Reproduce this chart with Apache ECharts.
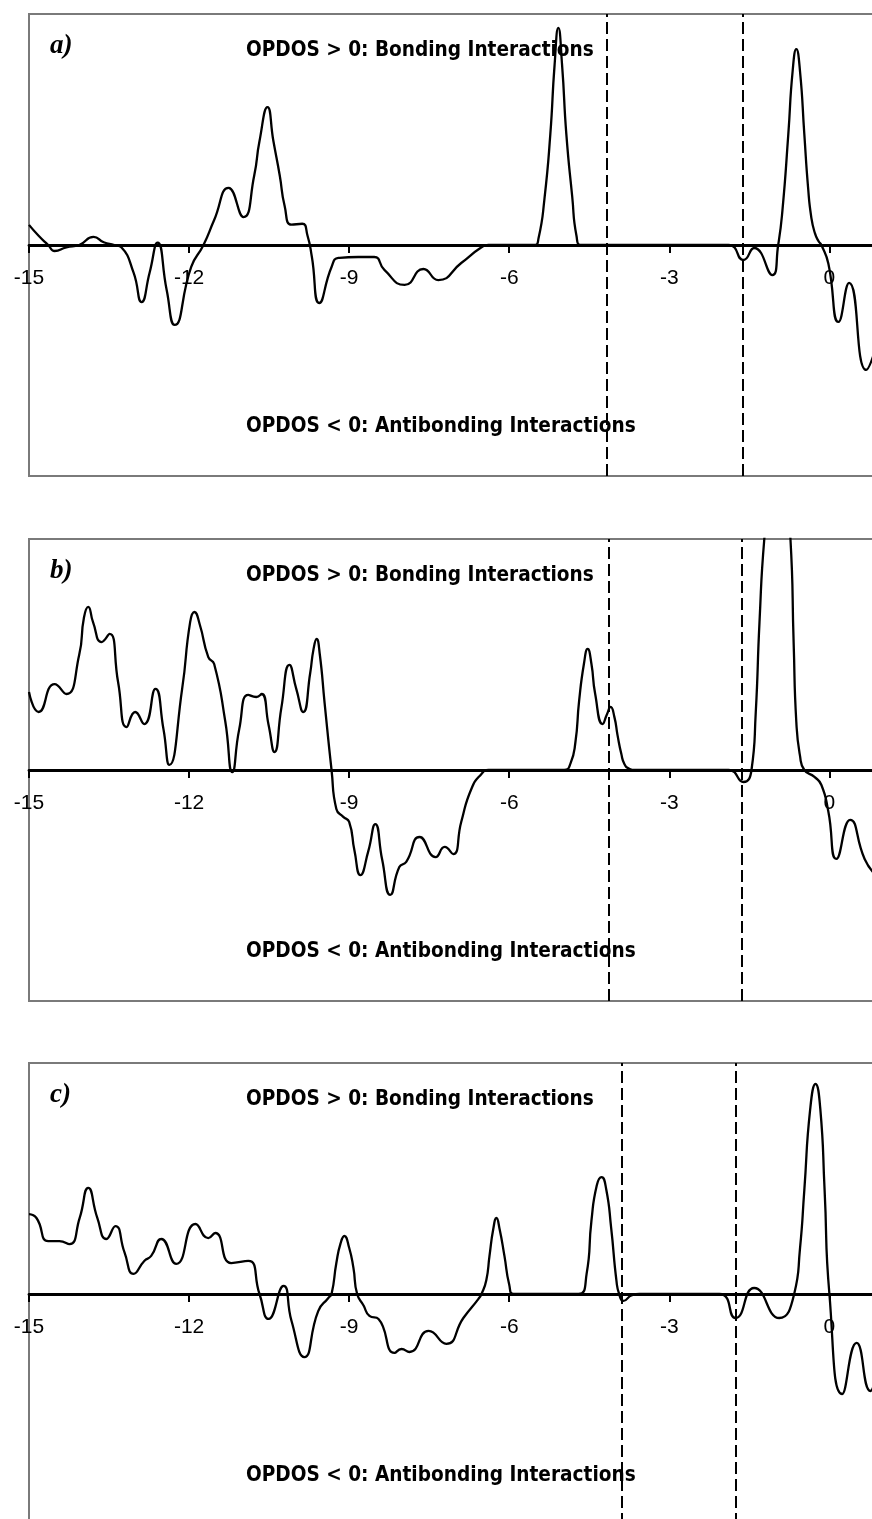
<!DOCTYPE html>
<html>
<head>
<meta charset="utf-8">
<title>OPDOS</title>
<script src="https://cdn.jsdelivr.net/npm/echarts@6/dist/echarts.min.js"></script>
<style>
  html, body { margin: 0; padding: 0; background: #ffffff; }
  #chart { width: 872px; height: 1519px; }
</style>
</head>
<body>
<div id="chart"></div>
<script>
// Overlap population DOS curves, energy (eV) vs OPDOS (arbitrary units)
const panelNames = ['a)', 'b)', 'c)'];
const xTicks = { min: -15, max: 3, step: 3 };

const opdosA = [
  [-15.0, 0.087], [-14.82, 0.04], [-14.64, 0.0], [-14.52, -0.026], [-14.3, -0.01],
  [-14.06, 0.0], [-13.79, 0.035], [-13.6, 0.012], [-13.4, 0.0], [-13.27, -0.01],
  [-13.04, -0.12], [-12.89, -0.247], [-12.74, -0.12], [-12.59, 0.01], [-12.42, -0.195],
  [-12.27, -0.346], [-11.96, -0.095], [-11.73, 0.0], [-11.53, 0.108], [-11.26, 0.247],
  [-10.98, 0.121], [-10.78, 0.3], [-10.68, 0.45], [-10.53, 0.597], [-10.42, 0.45],
  [-10.3, 0.3], [-10.21, 0.17], [-10.08, 0.088], [-9.88, 0.092], [-9.78, 0.04],
  [-9.7, -0.05], [-9.56, -0.251], [-9.33, -0.095], [-9.2, -0.056], [-8.83, -0.052],
  [-8.53, -0.052], [-8.34, -0.108], [-7.96, -0.173], [-7.61, -0.104], [-7.33, -0.152],
  [-6.9, -0.078], [-6.52, -0.01], [-6.39, 0.0], [-5.53, 0.0], [-5.45, 0.03],
  [-5.34, 0.2], [-5.23, 0.48], [-5.15, 0.78], [-5.08, 0.94], [-5.01, 0.78],
  [-4.93, 0.48], [-4.82, 0.21], [-4.74, 0.04], [-4.65, 0.0], [-1.89, 0.0],
  [-1.61, -0.065], [-1.41, -0.013], [-1.07, -0.13], [-0.96, 0.0], [-0.88, 0.15],
  [-0.77, 0.48], [-0.69, 0.75], [-0.62, 0.848], [-0.55, 0.75], [-0.47, 0.48],
  [-0.4, 0.25], [-0.34, 0.121], [-0.27, 0.05], [-0.2, 0.015], [-0.15, 0.0],
  [-0.02, -0.08], [0.17, -0.333], [0.37, -0.164], [0.69, -0.541], [0.85, -0.46]
];

const opdosB = [
  [-15.0, 0.338], [-14.82, 0.251], [-14.52, 0.372], [-14.3, 0.329], [-14.06, 0.498],
  [-13.97, 0.66], [-13.89, 0.706], [-13.8, 0.64], [-13.64, 0.554], [-13.49, 0.589],
  [-13.33, 0.38], [-13.17, 0.186], [-13.01, 0.251], [-12.84, 0.199], [-12.63, 0.351],
  [-12.48, 0.177], [-12.37, 0.022], [-12.13, 0.351], [-11.98, 0.64], [-11.9, 0.684],
  [-11.8, 0.63], [-11.64, 0.489], [-11.53, 0.459], [-11.32, 0.208], [-11.19, -0.009],
  [-11.06, 0.177], [-10.89, 0.325], [-10.74, 0.316], [-10.64, 0.329], [-10.51, 0.195],
  [-10.4, 0.078], [-10.27, 0.27], [-10.12, 0.455], [-9.99, 0.35], [-9.86, 0.251],
  [-9.73, 0.42], [-9.67, 0.52], [-9.61, 0.567], [-9.55, 0.5], [-9.46, 0.29],
  [-9.33, 0.0], [-9.24, -0.169], [-9.11, -0.203], [-9.0, -0.225], [-8.9, -0.35],
  [-8.79, -0.455], [-8.64, -0.35], [-8.51, -0.234], [-8.38, -0.39], [-8.23, -0.541],
  [-8.06, -0.42], [-7.93, -0.398], [-7.68, -0.29], [-7.38, -0.377], [-7.21, -0.333],
  [-7.05, -0.364], [-6.9, -0.225], [-6.71, -0.082], [-6.52, -0.017], [-6.39, 0.0],
  [-4.97, 0.0], [-4.85, 0.03], [-4.76, 0.12], [-4.69, 0.3], [-4.6, 0.46],
  [-4.53, 0.524], [-4.46, 0.46], [-4.39, 0.33], [-4.25, 0.199], [-4.17, 0.24],
  [-4.1, 0.273], [-4.03, 0.23], [-3.97, 0.15], [-3.9, 0.07], [-3.84, 0.025],
  [-3.75, 0.005], [-3.65, 0.0], [-1.89, 0.0], [-1.61, -0.052], [-1.46, 0.0],
  [-1.38, 0.25], [-1.31, 0.64], [-1.22, 1.0], [-0.97, 1.6], [-0.73, 1.0],
  [-0.67, 0.55], [-0.62, 0.208], [-0.55, 0.06], [-0.47, 0.0], [-0.28, -0.03],
  [-0.15, -0.065], [-0.02, -0.18], [0.13, -0.385], [0.39, -0.216], [0.66, -0.385],
  [0.85, -0.45]
];

const opdosC = [
  [-15.0, 0.346], [-14.86, 0.329], [-14.64, 0.229], [-14.43, 0.229], [-14.24, 0.216],
  [-14.05, 0.33], [-13.89, 0.459], [-13.72, 0.33], [-13.55, 0.238], [-13.38, 0.294],
  [-13.21, 0.18], [-13.04, 0.087], [-12.84, 0.143], [-12.71, 0.165], [-12.52, 0.238],
  [-12.24, 0.13], [-11.88, 0.303], [-11.64, 0.242], [-11.51, 0.264], [-11.21, 0.134],
  [-10.89, 0.143], [-10.68, 0.0], [-10.51, -0.108], [-10.23, 0.035], [-10.08, -0.117],
  [-9.84, -0.273], [-9.58, -0.074], [-9.39, -0.017], [-9.33, 0.0], [-9.24, 0.134],
  [-9.16, 0.22], [-9.09, 0.251], [-9.0, 0.2], [-8.92, 0.113], [-8.85, 0.0],
  [-8.73, -0.05], [-8.62, -0.095], [-8.45, -0.108], [-8.15, -0.255], [-8.02, -0.238],
  [-7.87, -0.251], [-7.51, -0.16], [-7.18, -0.216], [-6.86, -0.104], [-6.58, -0.022],
  [-6.52, 0.0], [-6.43, 0.06], [-6.37, 0.165], [-6.3, 0.28], [-6.24, 0.329],
  [-6.18, 0.28], [-6.09, 0.165], [-6.0, 0.04], [-5.92, 0.0], [-4.7, 0.0],
  [-4.55, 0.087], [-4.46, 0.316], [-4.36, 0.47], [-4.27, 0.506], [-4.18, 0.45],
  [-4.09, 0.286], [-3.99, 0.056], [-3.94, 0.0], [-3.86, -0.03], [-3.7, -0.005],
  [-3.56, 0.0], [-2.06, 0.0], [-1.76, -0.104], [-1.41, 0.026], [-0.94, -0.104],
  [-0.66, 0.0], [-0.55, 0.2], [-0.47, 0.45], [-0.36, 0.8], [-0.26, 0.909],
  [-0.17, 0.8], [-0.09, 0.45], [0.0, 0.0], [0.24, -0.433], [0.51, -0.212],
  [0.77, -0.42], [0.85, -0.38]
];

// energies of the two reference levels marked in each panel
const levelsA = [-4.17, -1.62];
const levelsB = [-4.13, -1.65];
const levelsC = [-3.89, -1.76];

const bondingText = 'OPDOS > 0: Bonding Interactions';
const antibondingText = 'OPDOS < 0: Antibonding Interactions';

const curves = [opdosA, opdosB, opdosC];
const levels = [levelsA, levelsB, levelsC];
const panelTops = [14, 539, 1063];
const panelHeight = 462;
const pxPerEv = 53.36;
const yRange = { min: -1, max: 1 };

const grids = [], xAxes = [], yAxes = [], series = [], graphics = [];
const headFont = '"DejaVu Sans Condensed", "Liberation Sans Narrow", "DejaVu Sans", sans-serif';
const labelFont = '"Liberation Sans", Arial, sans-serif';

curves.forEach((data, i) => {
  const top = panelTops[i];
  grids.push({
    left: 29, top: top,
    width: pxPerEv * (xTicks.max - xTicks.min), height: panelHeight,
    outerBoundsMode: 'none', containLabel: false,
    show: true, borderColor: '#7a7a7a', borderWidth: 2, backgroundColor: 'transparent'
  });
  // energy axis drawn through OPDOS = 0
  xAxes.push({
    type: 'value', gridIndex: i,
    min: xTicks.min, max: xTicks.max, interval: xTicks.step,
    axisLine: { onZero: true, lineStyle: { color: '#000', width: 2.8 } },
    axisTick: { show: true, length: 8, lineStyle: { color: '#000', width: 2 } },
    axisLabel: { show: false },
    splitLine: { show: false }
  });
  // tick labels, lifted from the frame bottom up to the zero line
  xAxes.push({
    type: 'value', gridIndex: i, position: 'bottom',
    offset: -panelHeight * (0 - yRange.min) / (yRange.max - yRange.min),
    min: xTicks.min, max: xTicks.max, interval: xTicks.step,
    axisLine: { show: false, onZero: false },
    axisTick: { show: false },
    axisLabel: { color: '#000', fontSize: 21, margin: 23, fontFamily: labelFont },
    splitLine: { show: false }
  });
  yAxes.push({
    type: 'value', gridIndex: i, min: yRange.min, max: yRange.max, show: false,
    splitLine: { show: false }
  });
  series.push({
    type: 'line', xAxisIndex: 2 * i, yAxisIndex: i,
    data: data, showSymbol: false, smooth: 0.55, clip: true,
    lineStyle: { color: '#000', width: 2.3 },
    silent: true, z: 3,
    markLine: {
      silent: true, symbol: ['none', 'none'],
      label: { show: false },
      lineStyle: { color: '#000', width: 2, type: [12, 5] },
      data: levels[i].map(e => ({ xAxis: e }))
    }
  });
  graphics.push(
    {
      type: 'text', left: 50, top: top + 19, z: 10,
      style: {
        text: panelNames[i], fill: '#000',
        font: 'italic bold 27px "Liberation Serif", "Times New Roman", serif'
      }
    },
    {
      type: 'text', left: 246, top: top + 26, z: 10,
      style: { text: bondingText, fill: '#000', font: 'bold 20.6px ' + headFont }
    },
    {
      type: 'text', left: 246, top: top + 402, z: 10,
      style: { text: antibondingText, fill: '#000', font: 'bold 20.6px ' + headFont }
    }
  );
});

const chart = echarts.init(document.getElementById('chart'), null, { renderer: 'canvas' });
chart.setOption({
  animation: false,
  backgroundColor: '#ffffff',
  grid: grids,
  xAxis: xAxes,
  yAxis: yAxes,
  series: series,
  graphic: graphics
});
</script>
</body>
</html>
